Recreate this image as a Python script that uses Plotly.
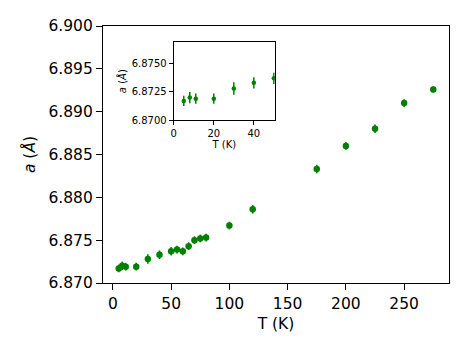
import plotly.graph_objects as go

# lattice parameter vs temperature
temps = [5, 8, 11, 20, 30, 40, 50, 55, 60, 65, 70, 75, 80, 100, 120, 175, 200, 225, 250, 275]
lattice_a = [6.8717, 6.8720, 6.8719, 6.8719, 6.8728, 6.8733, 6.8737, 6.8739, 6.8737, 6.8743,
             6.8750, 6.8752, 6.8753, 6.8767, 6.8786, 6.8833, 6.8860, 6.8880, 6.8910, 6.8926]
lattice_err = [0.00045, 0.0005, 0.00045, 0.00045, 0.00055, 0.0005, 0.0005, 0.00045, 0.00045, 0.00045,
               0.00045, 0.00045, 0.00045, 0.00045, 0.0005, 0.0005, 0.00045, 0.0005, 0.00045, 0.00035]

green = "#008000"
font = "DejaVu Sans"

fig = go.Figure()

fig.add_trace(
    go.Scatter(
        x=temps,
        y=lattice_a,
        mode="markers",
        marker=dict(color=green, size=6.5),
        error_y=dict(type="data", array=lattice_err, color=green, thickness=1.6, width=0),
        showlegend=False,
    )
)

fig.add_trace(
    go.Scatter(
        x=temps,
        y=lattice_a,
        mode="markers",
        marker=dict(color=green, size=4.5),
        error_y=dict(type="data", array=lattice_err, color=green, thickness=1.5, width=0),
        xaxis="x2",
        yaxis="y2",
        showlegend=False,
    )
)

axis_style = dict(
    showline=True,
    linecolor="black",
    linewidth=1.2,
    mirror=True,
    ticks="outside",
    tickcolor="black",
    showgrid=False,
    zeroline=False,
    automargin=False,
)

# page body has an 8px margin, so the figure is a bit smaller than the window
fig.update_layout(
    width=461,
    height=344,
    margin=dict(l=95, r=20, t=18, b=69),
    plot_bgcolor="white",
    paper_bgcolor="white",
    font=dict(family=font, color="black"),
    xaxis=dict(
        **axis_style,
        range=[-8.5, 288.5],
        tickvals=[0, 50, 100, 150, 200, 250],
        ticklen=6,
        tickfont=dict(size=15.5),
        title=dict(text="T (K)", font=dict(size=15.5), standoff=6),
    ),
    yaxis=dict(
        **axis_style,
        range=[6.870, 6.900],
        dtick=0.005,
        tickformat=".3f",
        ticklen=6,
        tickfont=dict(size=15.5),
        title=dict(text="<i>a</i> (<i>Å</i>)", font=dict(size=15.5), standoff=8),
    ),
    xaxis2=dict(
        **axis_style,
        domain=[0.2045, 0.4967],
        anchor="y2",
        range=[0, 50.5],
        tickvals=[0, 20, 40],
        ticklen=4,
        tickfont=dict(size=10),
        title=dict(text="T (K)", font=dict(size=10), standoff=2),
    ),
    yaxis2=dict(
        **axis_style,
        domain=[0.634, 0.9366],
        anchor="x2",
        range=[6.8700, 6.8769],
        tickvals=[6.8700, 6.8725, 6.8750],
        tickformat=".4f",
        ticklen=4,
        tickfont=dict(size=10),
        title=dict(text="<i>a</i> (<i>Å</i>)", font=dict(size=10), standoff=3),
    ),
)

fig.write_html("out.html")
